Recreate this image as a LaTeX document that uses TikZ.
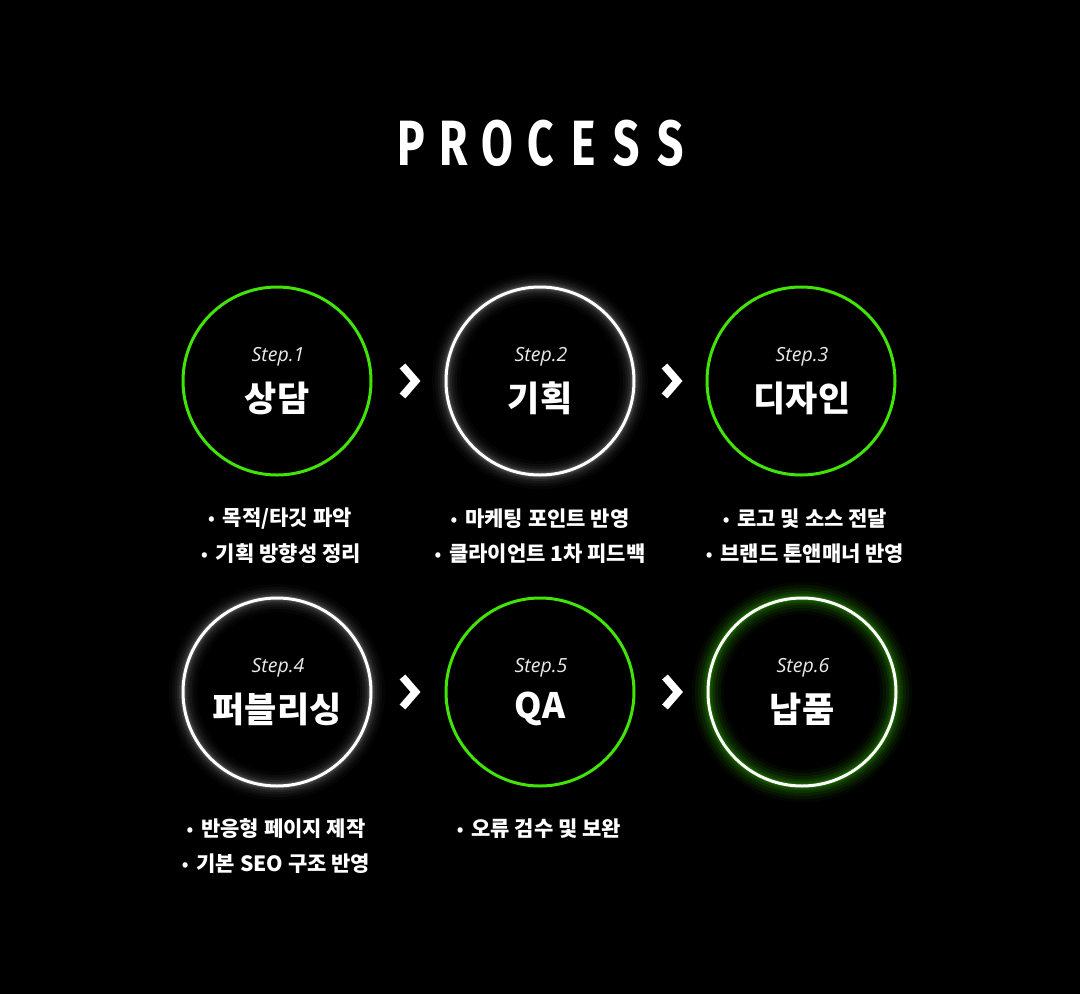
\documentclass[tikz,border=0pt]{standalone}
\usepackage{fontspec}
\usetikzlibrary{calc}
\newfontfamily\krfont{Noto Sans CJK KR}
\newfontfamily\stepfont{Open Sans}
\newfontfamily\titlefont{Fira Sans}
\definecolor{limeg}{RGB}{66,228,8}
\newcommand{\blt}{\raisebox{1pt}{\scalebox{0.8}{•}}\hspace{8pt}}
\tikzset{
  ring/.style={circle, minimum size=188pt, inner sep=0pt, line width=3pt},
  greenring/.style={ring, draw=limeg},
  whitering/.style={ring, draw=white},
  steplabel/.style={text=white!92!black, font=\stepfont\itshape\fontsize{19.5}{19.5}\selectfont, inner sep=0pt},
  stepname/.style={text=white, font=\krfont\bfseries\fontsize{35}{35}\selectfont, inner sep=0pt},
  item/.style={text=white, font=\krfont\bfseries\fontsize{21}{21}\selectfont, inner sep=0pt},
  titleletter/.style={text=white, font=\titlefont\bfseries\fontsize{64}{64}\selectfont, inner sep=0pt},
  chev/.style={draw=white, line width=7.5pt, line join=miter},
}
\begin{document}
\begin{tikzpicture}[x=1pt,y=-1pt]
\useasboundingbox (0,0) rectangle (1080,994);
\fill[black] (0,0) rectangle (1080,994);

% title
\foreach \ch [count=\i from 0] in {P,R,O,C,E,S,S}
  \node[titleletter] at ({411+43.2*\i},143) {\scalebox{0.72}[1]{\ch}};

% glows
\foreach \cx/\cy in {540/381, 277/692}{
  \foreach \w/\o in {28/0.02, 22/0.03, 17/0.045, 12/0.06, 8/0.08, 5/0.1}
    \draw[white, opacity=\o, line width=\w pt] (\cx,\cy) circle (94);
}
\foreach \w/\o in {32/0.04, 26/0.05, 20/0.07, 14/0.09, 9/0.12, 5/0.16}
  \draw[limeg, opacity=\o, line width=\w pt] (802,692) circle (94);

% circles
\node[greenring] (c1) at (277,381) {};
\node[whitering] (c2) at (540,381) {};
\node[greenring] (c3) at (801,381) {};
\node[whitering] (c4) at (277,692) {};
\node[greenring] (c5) at (540,692) {};
\node[whitering] (c6) at (802,692) {};

% labels inside
\node[steplabel] (s1) at (278,357) {Step.1};
\node[stepname]  (n1) at (277,398) {상담};
\node[steplabel] (s2) at (541,357) {Step.2};
\node[stepname]  (n2) at (540,398) {기획};
\node[steplabel] (s3) at (802,357) {Step.3};
\node[stepname]  (n3) at (802,398) {디자인};
\node[steplabel] (s4) at (278,668) {Step.4};
\node[stepname]  (n4) at (277,709) {퍼블리싱};
\node[steplabel] (s5) at (541,668) {Step.5};
\node[stepname]  (n5) at (540,709) {QA};
\node[steplabel] (s6) at (803,668) {Step.6};
\node[stepname]  (n6) at (802,709) {납품};

% chevrons
\foreach \a/\b in {c1/c2, c2/c3, c4/c5, c5/c6}{
  \coordinate (m) at ($(\a.east)!0.5!(\b.west)$);
  \draw[chev] ([shift={(-6,-15)}]m) -- ([shift={(7,0)}]m) -- ([shift={(-6,15)}]m);
}

% items
\node[item] (i11) at (280,519) {\blt 목적/타깃 파악};
\node[item] (i12) at (281,554) {\blt 기획 방향성 정리};
\node[item] (i21) at (540,519) {\blt 마케팅 포인트 반영};
\node[item] (i22) at (540,554) {\blt 클라이언트 1차 피드백};
\node[item] (i31) at (805,519) {\blt 로고 및 소스 전달};
\node[item] (i32) at (805,554) {\blt 브랜드 톤앤매너 반영};
\node[item] (i41) at (276,829) {\blt 반응형 페이지 제작};
\node[item] (i42) at (276,864) {\blt 기본 SEO 구조 반영};
\node[item] (i51) at (539,829) {\blt 오류 검수 및 보완};
\end{tikzpicture}
\end{document}
